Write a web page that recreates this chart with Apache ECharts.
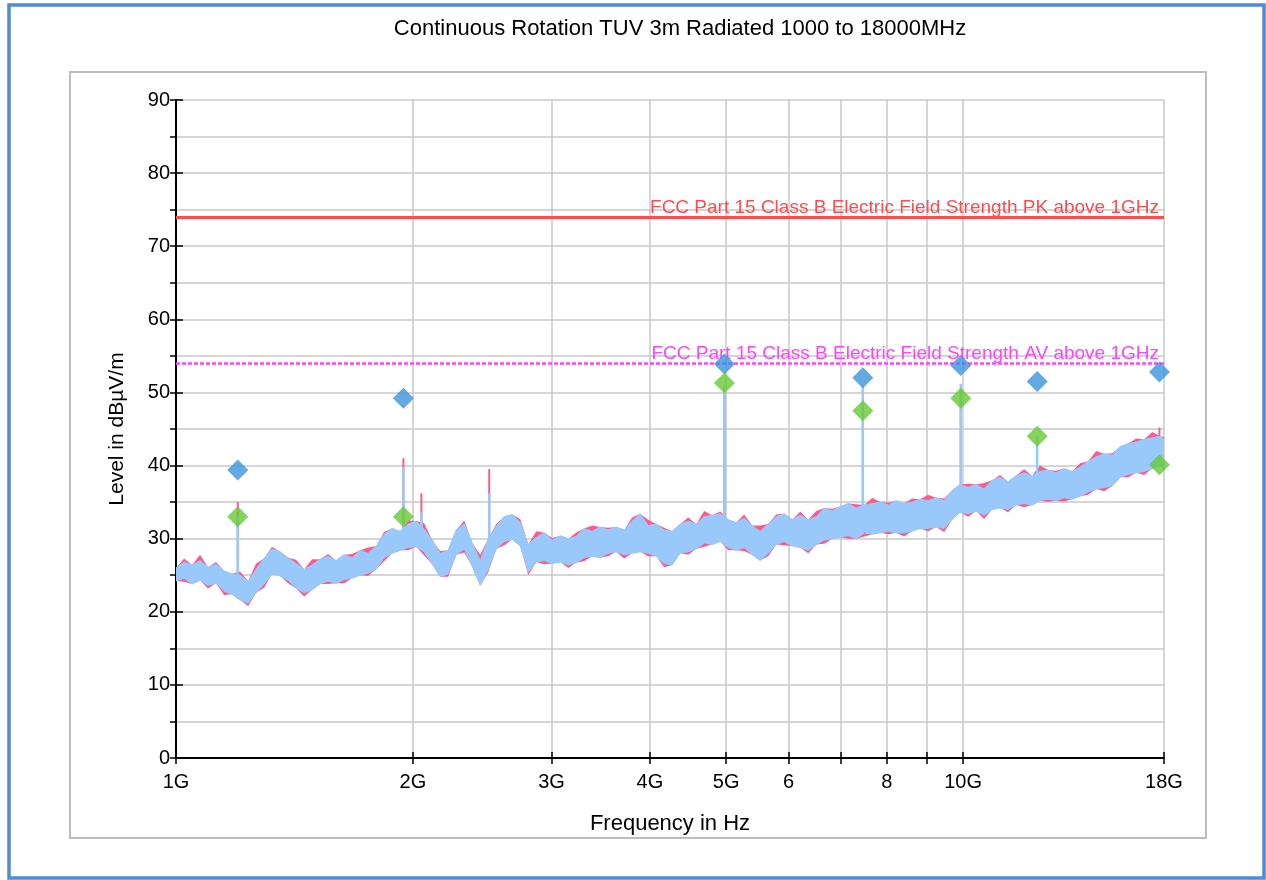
<!DOCTYPE html>
<html><head><meta charset="utf-8">
<script src="https://cdn.jsdelivr.net/npm/echarts@6/dist/echarts.min.js"></script>
<style>html,body{margin:0;padding:0;background:#fff}#chart{width:1266px;height:880px}</style>
</head><body><div id="chart"></div>
<script>
const FONT = '"Liberation Sans", Arial, sans-serif';
const titleText = 'Continuous Rotation TUV 3m Radiated 1000 to 18000MHz';
const xAxisName = 'Frequency in Hz';
const yAxisName = 'Level in dB\u00b5V/m';

// x tick positions (MHz) and their labels
const xTickValues = [1000, 2000, 3000, 4000, 5000, 6000, 7000, 8000, 9000, 10000, 18000];
const xLabelValues = [1000, 2000, 3000, 4000, 5000, 6000, 8000, 10000, 18000];
const xLabelTexts = ['1G', '2G', '3G', '4G', '5G', '6', '8', '10G', '18G'];

// limit lines
const limitFreq = [1000, 18000];
const pkLimit = [74, 74];
const avLimit = [54, 54];
const pkLimitName = 'FCC Part 15 Class B Electric Field Strength PK above 1GHz';
const avLimitName = 'FCC Part 15 Class B Electric Field Strength AV above 1GHz';

// swept traces (MHz) - envelope of the noisy trace
const traceFreq = [
 1000,1024,1048,1073,1098,1124,1151,1178,1206,1235,
 1264,1294,1324,1356,1388,1421,1455,1489,1524,1560,
 1597,1635,1674,1714,1754,1796,1838,1882,1927,1972,
 2019,2067,2116,2166,2217,2270,2324,2379,2435,2493,
 2552,2612,2674,2738,2803,2869,2937,3007,3078,3151,
 3223,3299,3378,3458,3540,3624,3710,3798,3888,3980,
 4074,4170,4269,4370,4474,4580,4689,4800,4914,5030,
 5148,5270,5395,5523,5654,5788,5925,6066,6210,6357,
 6508,6662,6820,6982,7147,7317,7490,7668,7850,8036,
 8219,8414,8613,8818,9027,9241,9460,9684,9914,10149,
 10389,10633,10885,11143,11407,11677,11954,12237,12527,12824,
 13128,13439,13758,14084,14418,14760,15110,15468,15835,16210,
 16594,16987,17390,17802,18000];
const blueTraceLo = [
 24.2,24.6,23.8,24.3,23.6,23.9,22.8,22.4,21.6,21.2,
 22.6,23.8,25.2,24.9,24.3,23.2,22.6,23.0,23.8,24.2,
 23.9,24.4,24.6,25.0,25.3,25.8,27.4,28.0,28.4,28.8,
 28.9,28.2,26.5,24.8,25.2,27.8,28.6,26.2,23.6,25.8,
 28.6,29.6,29.9,29.0,25.4,26.8,27.0,26.6,26.8,26.4,
 26.7,27.4,27.6,27.4,28.0,28.2,27.8,28.0,28.2,28.0,
 27.6,26.6,26.4,28.0,28.2,28.6,29.4,29.2,29.6,28.8,
 28.4,28.8,27.8,27.0,28.0,29.2,29.6,29.0,28.8,28.4,
 29.2,29.8,30.0,30.2,30.4,30.0,30.8,30.6,30.8,31.0,
 30.8,30.8,31.0,31.4,31.4,31.6,31.4,32.6,33.6,33.4,
 33.8,33.2,34.0,34.2,34.0,34.6,34.8,34.6,35.2,35.4,
 35.2,35.6,35.4,35.8,36.4,36.8,37.0,37.2,38.4,38.8,
 39.0,39.2,39.6,40.0,39.8];
const blueTraceHi = [
 26.0,26.8,26.4,27.0,26.1,26.5,25.6,25.2,25.0,24.2,
 25.8,27.3,28.6,28.2,27.4,26.6,25.8,26.4,27.2,27.6,
 27.0,27.8,27.4,28.4,28.0,29.0,30.6,31.4,31.0,32.0,
 32.4,31.3,29.8,28.0,28.4,31.2,32.0,29.4,27.0,30.0,
 31.7,33.0,33.3,32.2,29.2,30.2,30.8,29.8,30.4,30.0,
 30.3,31.4,31.0,31.6,31.2,31.6,31.2,32.4,33.4,31.8,
 32.0,31.2,31.0,32.0,32.4,32.0,33.0,33.2,33.4,32.6,
 32.2,32.8,31.8,31.0,32.0,33.0,33.4,32.6,33.2,32.6,
 33.0,34.2,33.8,34.4,34.8,34.2,34.6,34.8,35.0,34.6,
 35.2,34.8,35.0,35.4,35.2,35.6,35.2,36.6,37.4,37.0,
 37.4,36.8,38.0,38.4,37.8,38.6,39.0,38.6,39.2,39.4,
 39.0,39.6,39.2,39.8,40.6,41.2,41.6,41.4,42.6,43.0,
 43.2,43.6,43.8,44.0,43.6];
const redTraceLo = [
 24.2,24.1,23.8,24.3,23.2,23.9,22.3,22.4,21.6,20.8,
 22.6,23.3,25.2,24.9,23.9,23.2,22.1,23.0,23.8,23.8,
 23.9,23.9,24.6,25.0,24.9,25.8,26.9,28.0,28.4,28.4,
 28.9,27.7,26.5,24.8,24.8,27.8,28.1,26.2,23.6,25.4,
 28.6,29.1,29.9,29.0,25.0,26.8,26.5,26.6,26.8,26.0,
 26.7,26.9,27.6,27.4,27.6,28.2,27.3,28.0,28.2,27.6,
 27.6,26.1,26.4,28.0,27.8,28.6,28.9,29.2,29.6,28.4,
 28.4,28.3,27.8,27.0,27.6,29.2,29.1,29.0,28.8,28.0,
 29.2,29.3,30.0,30.2,30.0,30.0,30.3,30.6,30.8,30.6,
 30.8,30.3,31.0,31.4,31.0,31.6,30.9,32.6,33.6,33.0,
 33.8,32.7,34.0,34.2,33.6,34.6,34.3,34.6,35.2,35.0,
 35.2,35.1,35.4,35.8,36.0,36.8,36.5,37.2,38.4,38.4,
 39.0,38.7,39.6,40.0,39.4];
const redTraceHi = [
 26.0,27.3,26.4,27.8,26.1,26.8,25.6,25.2,25.5,24.2,
 26.6,27.3,28.9,28.2,27.4,27.1,25.8,27.2,27.2,27.9,
 27.0,27.8,27.9,28.4,28.8,29.0,30.9,31.4,31.0,32.5,
 32.4,32.1,29.8,28.3,28.4,31.2,32.5,29.4,27.8,30.0,
 32.0,33.0,33.3,32.7,29.2,31.0,30.8,30.1,30.4,30.0,
 30.8,31.4,31.8,31.6,31.5,31.6,31.2,32.9,33.4,32.6,
 32.0,31.5,31.0,32.0,32.9,32.0,33.8,33.2,33.7,32.6,
 32.2,33.3,31.8,31.8,32.0,33.3,33.4,32.6,33.7,32.6,
 33.8,34.2,34.1,34.4,34.8,34.7,34.6,35.6,35.0,34.9,
 35.2,34.8,35.5,35.4,36.0,35.6,35.5,36.6,37.4,37.5,
 37.4,37.6,38.0,38.7,37.8,38.6,39.5,38.6,40.0,39.4,
 39.3,39.6,39.2,40.3,40.6,42.0,41.6,41.7,42.6,43.0,
 43.7,43.6,44.6,44.0,43.9];

// narrow spikes of the traces (MHz, base level, top of light-blue trace, top of red trace)
const spikeFreq = [1198, 1945, 2050, 2500, 4975, 7458, 9933, 12420, 17760];
const spikeBase = [23.5, 30.0, 30.0, 27.5, 30.5, 31.5, 34.5, 36.5, 41.0];
const spikeBlueTop = [33.0, 39.8, 33.6, 36.2, 51.0, 50.8, 51.2, 44.0, 43.6];
const spikeRedTop = [35.0, 41.0, 36.2, 39.5, 50.0, 48.0, 49.5, 40.0, 45.2];

// final measurement markers
const finalFreq = [1198, 1945, 4975, 7458, 9933, 12420, 17760];
const finalPeak = [39.4, 49.2, 53.9, 52.0, 53.7, 51.5, 52.8];
const finalAvg = [33.0, 33.0, 51.3, 47.5, 49.2, 44.0, 40.1];

const C_RED = '#ff5a8c', C_BLUE = '#99c9fb', C_PK = '#ff4d4d', C_AV = '#ff44ff';

function bandSeries(lo, hi, color, z, strokeW) {
  return {
    type: 'custom', z: z, silent: true, clip: true,
    data: [[traceFreq[0], lo[0]]],
    renderItem: function (params, api) {
      const pts = [];
      for (let i = 0; i < traceFreq.length; i++) pts.push(api.coord([traceFreq[i], hi[i]]));
      for (let i = traceFreq.length - 1; i >= 0; i--) pts.push(api.coord([traceFreq[i], lo[i]]));
      return { type: 'polygon', shape: { points: pts },
               style: { fill: color, stroke: strokeW ? color : null, lineWidth: strokeW } };
    }
  };
}
function spikeSeries(tops, color, width, z) {
  return {
    type: 'custom', z: z, silent: true, clip: true,
    data: spikeFreq.map((f, i) => [f, spikeBase[i], tops[i]]),
    encode: { x: 0, y: [1, 2] },
    renderItem: function (params, api) {
      const a = api.coord([api.value(0), api.value(1)]);
      const b = api.coord([api.value(0), api.value(2)]);
      return { type: 'line', shape: { x1: a[0], y1: a[1], x2: b[0], y2: b[1] }, style: { stroke: color, lineWidth: width } };
    }
  };
}
function limitSeries(vals, name, color, lineType, width, z) {
  return {
    type: 'line', z: z, data: [], silent: true,
    markLine: {
      symbol: 'none', silent: true,
      lineStyle: { color: color, width: width, type: lineType },
      label: { show: true, position: 'insideEndTop', formatter: name, color: color,
               fontFamily: FONT, fontSize: 19, distance: [5, 0] },
      data: [[{ coord: [limitFreq[0], vals[0]] }, { coord: [limitFreq[1], vals[1]] }]]
    }
  };
}

const labelMap = {};
xLabelValues.forEach((v, i) => { labelMap[v] = xLabelTexts[i]; });

const chart = echarts.init(document.getElementById('chart'), null, { renderer: 'canvas' });
chart.setOption({
  animation: false,
  backgroundColor: '#fff',
  textStyle: { fontFamily: FONT },
  title: {
    text: titleText, left: 675, top: 13, textAlign: 'center',
    textStyle: { fontFamily: FONT, fontSize: 22, fontWeight: 'normal', color: '#000' }
  },
  graphic: [
    { type: 'rect', z: -10, shape: { x: 9, y: 5, width: 1255, height: 873 },
      style: { fill: '#fff', stroke: '#4f8bd6', lineWidth: 3.5 } },
    { type: 'rect', z: -9, shape: { x: 70, y: 72, width: 1136, height: 766 },
      style: { fill: '#fff', stroke: '#bdbdbd', lineWidth: 2 } }
  ],
  grid: { left: 176, top: 100, right: 102, bottom: 122, containLabel: false },
  xAxis: [{
    type: 'log', logBase: 10, min: 1000, max: 18000,
    name: xAxisName, nameLocation: 'middle', nameGap: 55,
    nameTextStyle: { fontFamily: FONT, fontSize: 22, color: '#000' },
    axisLine: { show: true, onZero: false, lineStyle: { color: '#000', width: 2 } },
    axisTick: { show: true, customValues: xTickValues, length: 6, lineStyle: { color: '#000', width: 1.5 } },
    axisLabel: { customValues: xLabelValues, formatter: v => labelMap[v] || '', margin: 14,
                 fontFamily: FONT, fontSize: 20, color: '#000' },
    splitLine: { show: true, lineStyle: { color: '#c8c8c8', width: 1.5 } },
    minorTick: { show: false }, minorSplitLine: { show: false }
  }, {
    type: 'log', logBase: 10, min: 1000, max: 18000, position: 'bottom',
    axisLine: { show: false },
    axisTick: { show: true, inside: true, customValues: xTickValues, length: 6, lineStyle: { color: '#000', width: 1.5 } },
    axisLabel: { show: false }, splitLine: { show: false }
  }],
  yAxis: [{
    type: 'value', min: 0, max: 90, interval: 10,
    name: yAxisName, nameLocation: 'middle', nameGap: 48, nameRotate: 90,
    nameTextStyle: { fontFamily: FONT, fontSize: 21, color: '#000' },
    axisLine: { show: true, onZero: false, lineStyle: { color: '#000', width: 2 } },
    axisTick: { show: true, length: 6, lineStyle: { color: '#000', width: 1.5 } },
    minorTick: { show: true, splitNumber: 2, length: 6, lineStyle: { color: '#000', width: 1.5 } },
    axisLabel: { margin: 6, fontFamily: FONT, fontSize: 20, color: '#000' },
    splitLine: { show: true, lineStyle: { color: '#c8c8c8', width: 1.5 } },
    minorSplitLine: { show: true, lineStyle: { color: '#c8c8c8', width: 1.5 } }
  }, {
    type: 'value', min: 0, max: 90, interval: 10, position: 'left',
    axisLine: { show: false },
    axisTick: { show: true, inside: true, length: 7, lineStyle: { color: '#000', width: 1.5 } },
    axisLabel: { show: false }, splitLine: { show: false }
  }],
  series: [
    bandSeries(redTraceLo, redTraceHi, C_RED, 2, 0),
    bandSeries(blueTraceLo, blueTraceHi, C_BLUE, 3, 1),
    spikeSeries(spikeRedTop, C_RED, 2, 2),
    spikeSeries(spikeBlueTop, C_BLUE, 2.5, 3),
    limitSeries(pkLimit, pkLimitName, C_PK, 'solid', 3, 4),
    limitSeries(avLimit, avLimitName, C_AV, [4, 2], 2.5, 4),
    { type: 'scatter', z: 6, symbol: 'diamond', symbolSize: 21, silent: true,
      itemStyle: { color: '#3a95dc' }, data: finalFreq.map((f, i) => [f, finalPeak[i]]) },
    { type: 'scatter', z: 6, symbol: 'diamond', symbolSize: 21, silent: true,
      itemStyle: { color: '#66c935' }, data: finalFreq.map((f, i) => [f, finalAvg[i]]) }
  ]
});
</script></body></html>
